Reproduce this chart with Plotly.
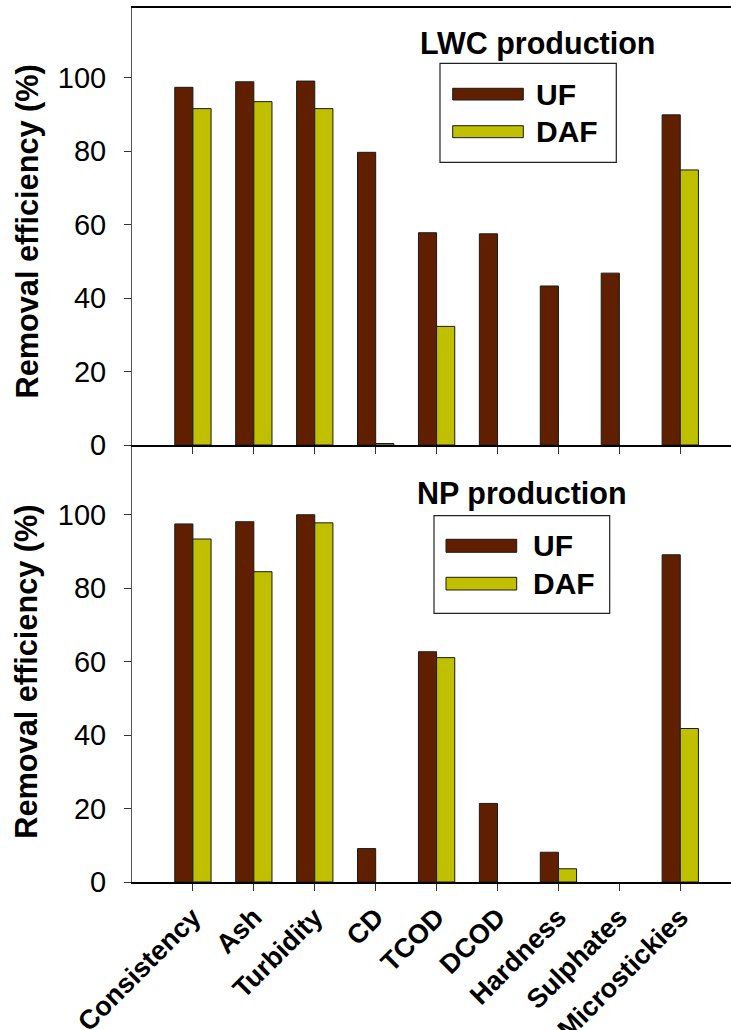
import plotly.graph_objects as go

categories = ["Consistency", "Ash", "Turbidity", "CD", "TCOD", "DCOD",
              "Hardness", "Sulphates", "Microstickies"]
lwc_uf = [97.4, 98.9, 99.1, 79.7, 57.8, 57.5, 43.3, 46.8, 89.9]
lwc_daf = [91.6, 93.5, 91.6, 0.4, 32.3, 0, 0, 0, 74.9]
np_uf = [97.5, 98.1, 100.0, 9.1, 62.7, 21.4, 8.1, 0, 89.1]
np_daf = [93.4, 84.5, 97.8, 0, 61.1, 0, 3.6, 0, 41.8]
y_ticks = [0, 20, 40, 60, 80, 100]

UF_COLOR = "#602000"
DAF_COLOR = "#C0C000"
FONT = "Liberation Sans, Arial, sans-serif"

W, H = 731, 1030
L, R, T, B = 132, 0, 8, 148
PW, PH = W - L - R, H - T - B
CAT_PX = 60.92  # pixel spacing between categories in the reference


def px(x):
    return (x - L) / PW


def py(y):
    return (H - B - y) / PH


def bar_marker(color, values):
    return dict(color=color,
                line=dict(color="#1a1a1a", width=[0 if v == 0 else 1 for v in values]))


fig = go.Figure()
fig.add_trace(go.Bar(x=categories, y=lwc_uf, name="UF", marker=bar_marker(UF_COLOR, lwc_uf),
                     xaxis="x2", yaxis="y2", showlegend=False))
fig.add_trace(go.Bar(x=categories, y=lwc_daf, name="DAF", marker=bar_marker(DAF_COLOR, lwc_daf),
                     xaxis="x2", yaxis="y2", showlegend=False))
fig.add_trace(go.Bar(x=categories, y=np_uf, name="UF", marker=bar_marker(UF_COLOR, np_uf),
                     xaxis="x", yaxis="y", showlegend=False))
fig.add_trace(go.Bar(x=categories, y=np_daf, name="DAF", marker=bar_marker(DAF_COLOR, np_daf),
                     xaxis="x", yaxis="y", showlegend=False))

xr = [-1, -1 + PW / CAT_PX]
yaxis_common = dict(range=[0, 119], tickvals=y_ticks, ticks="outside", ticklen=7, tickcolor="#333",
                    showline=True, linecolor="#555", linewidth=1, showgrid=False, zeroline=False,
                    automargin=False,
                    tickfont=dict(family=FONT, size=29, color="black"), ticklabelstandoff=12)
xaxis_common = dict(range=xr, ticks="outside", ticklen=7, tickcolor="#333", showline=True,
                    linecolor="black", linewidth=1.5, showgrid=False, zeroline=False,
                    automargin=False)

fig.update_layout(
    width=W, height=H,
    margin=dict(l=L, r=R, t=T, b=B, autoexpand=False),
    paper_bgcolor="white", plot_bgcolor="white",
    barmode="group", bargap=0.404, bargroupgap=0,
    font=dict(family=FONT, color="black"),
    xaxis=dict(**xaxis_common, anchor="y", domain=[0, 1], tickangle=-45,
               tickfont=dict(family=FONT, size=27, color="black", weight="bold")),
    yaxis=dict(**yaxis_common, domain=[0, 0.5], anchor="x"),
    xaxis2=dict(**xaxis_common, anchor="y2", domain=[0, 1], showticklabels=False, mirror=True,
                matches="x"),
    yaxis2=dict(**yaxis_common, domain=[0.5, 1], anchor="x2"),
)

shapes = []
annotations = []


def legend_block(box, uf_sw, daf_sw, text_x):
    x0, y0, x1, y1 = box
    shapes.append(dict(type="rect", xref="paper", yref="paper", x0=px(x0), x1=px(x1),
                       y0=py(y1), y1=py(y0), line=dict(color="#222", width=1.2),
                       fillcolor="rgba(0,0,0,0)"))
    for (sx0, sx1, sy0, sy1), col, lab in [(uf_sw, UF_COLOR, "UF"), (daf_sw, DAF_COLOR, "DAF")]:
        shapes.append(dict(type="rect", xref="paper", yref="paper", x0=px(sx0), x1=px(sx1),
                           y0=py(sy1), y1=py(sy0), line=dict(color="#1a1a1a", width=1),
                           fillcolor=col))
        annotations.append(dict(xref="paper", yref="paper", x=px(text_x), y=py((sy0 + sy1) / 2),
                                text=lab, showarrow=False, xanchor="left", yanchor="middle",
                                font=dict(family=FONT, size=30, color="black", weight="bold")))


legend_block((440, 63.3, 616.3, 162.3), (452.7, 523.3, 88.3, 100), (452.7, 523.3, 125.7, 137.7), 534)
legend_block((434, 515.7, 609.7, 613.3), (446, 516.7, 539.3, 552.3), (446, 516.7, 577.3, 590), 531)

for text, cx, cy in [("LWC production", 537.3, 44), ("NP production", 522.3, 493)]:
    annotations.append(dict(xref="paper", yref="paper", x=px(cx), y=py(cy), text=text,
                            showarrow=False, xanchor="center", yanchor="middle",
                            font=dict(family=FONT, size=30.5, color="black", weight="bold")))

for cy in [231.5, 671.7]:
    annotations.append(dict(xref="paper", yref="paper", x=px(27), y=py(cy),
                            text="Removal efficiency (%)", textangle=-90, showarrow=False,
                            xanchor="center", yanchor="middle",
                            font=dict(family=FONT, size=30.7, color="black", weight="bold")))

fig.update_layout(shapes=shapes, annotations=annotations)
fig.write_html("out.html", config={"displayModeBar": False},
               post_script="document.body.style.margin='0px';document.body.style.overflow='hidden';")
